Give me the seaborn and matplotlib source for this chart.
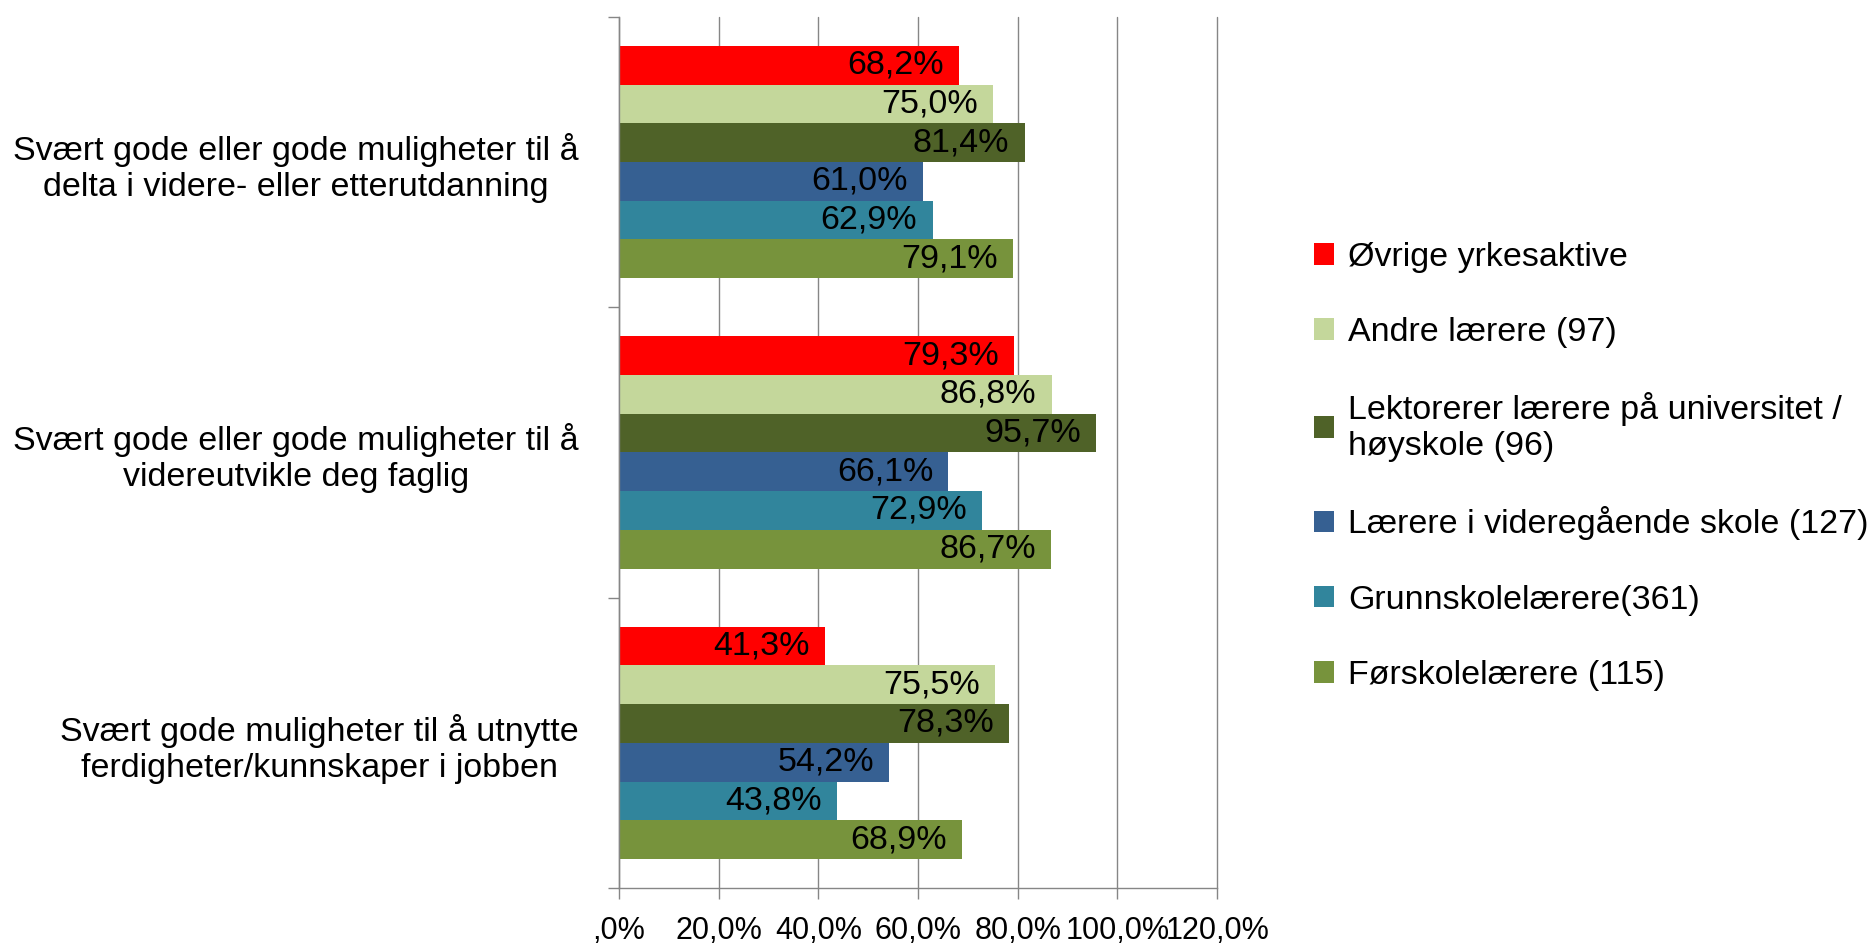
import pandas as pd
import matplotlib
matplotlib.use("Agg")
import matplotlib.pyplot as plt
import seaborn as sns

# Data
categories = [
    "Svært gode eller gode muligheter til å\ndelta i videre- eller etterutdanning",
    "Svært gode eller gode muligheter til å\nvidereutvikle deg faglig",
    "Svært gode muligheter til å utnytte\nferdigheter/kunnskaper i jobben",
]
groups = [
    "Øvrige yrkesaktive",
    "Andre lærere (97)",
    "Lektorerer lærere på universitet /\nhøyskole (96)",
    "Lærere i videregående skole (127)",
    "Grunnskolelærere(361)",
    "Førskolelærere (115)",
]
ovrige = [68.2, 79.3, 41.3]
andre = [75.0, 86.8, 75.5]
lektorer = [81.4, 95.7, 78.3]
vgs = [61.0, 66.1, 54.2]
grunnskole = [62.9, 72.9, 43.8]
forskole = [79.1, 86.7, 68.9]
colors = ["#FF0000", "#C4D79B", "#4F6228", "#366092", "#31859C", "#77933C"]
xticks = [0, 20, 40, 60, 80, 100, 120]
xtick_labels = [",0%", "20,0%", "40,0%", "60,0%", "80,0%", "100,0%", "120,0%"]

series = [ovrige, andre, lektorer, vgs, grunnskole, forskole]
rows = []
for g, vals in zip(groups, series):
    for c, v in zip(categories, vals):
        rows.append({"kategori": c, "gruppe": g, "andel": v})
df = pd.DataFrame(rows)

sns.set_style("white")
plt.rcParams["font.family"] = ["Liberation Sans", "DejaVu Sans"]
plt.rcParams["text.color"] = "black"
plt.rcParams["xtick.labelcolor"] = "black"
plt.rcParams["ytick.labelcolor"] = "black"
FS = 24.5

fig = plt.figure(figsize=(18.73, 9.46), dpi=100)
ax = fig.add_axes([0.3305, 0.0613, 0.3193, 0.921])

sns.barplot(data=df, y="kategori", x="andel", hue="gruppe", hue_order=groups,
            order=categories, palette=colors, orient="h", width=0.8,
            saturation=1, edgecolor="none", ax=ax)

handles, labels = ax.get_legend_handles_labels()
if ax.legend_ is not None:
    ax.legend_.remove()

# value labels, inside end
for cont, vals in zip(ax.containers, series):
    txts = ax.bar_label(cont, labels=[f"{v:.1f}%".replace(".", ",") for v in vals],
                        padding=-11, fontsize=FS, color="black")
    for t in txts:
        t.set_ha("right")

gray = "#868686"
ax.set_xlim(0, 120)
ax.set_ylim(2.5, -0.5)
ax.set_xticks(xticks)
ax.set_xticklabels(xtick_labels, fontsize=22, color="black")
ax.xaxis.grid(True, color=gray, lw=1)
for gl in ax.get_xgridlines():
    gl.set_clip_on(False)
ax.set_axisbelow(True)
ax.tick_params(axis="x", length=8, color=gray, width=1, pad=12, bottom=True)

ax.set_yticks(range(len(categories)))
ax.set_yticklabels(categories, fontsize=FS, multialignment="center", color="black")
ax.set_yticks([-0.5, 0.5, 1.5, 2.5], minor=True)
ax.tick_params(axis="y", which="major", length=0, pad=29)
ax.tick_params(axis="y", which="minor", length=8, color=gray, width=1, left=True)
ax.set_xlabel("")
ax.set_ylabel("")

for s in ["top", "right"]:
    ax.spines[s].set_visible(False)
for s in ["left", "bottom"]:
    ax.spines[s].set_color(gray)
    ax.spines[s].set_linewidth(1)

fig.legend(handles, labels, loc="center left", bbox_to_anchor=(0.7015, 0.507),
           frameon=False, fontsize=FS, borderaxespad=0, borderpad=0,
           handlelength=0.6, handleheight=0.6, handletextpad=0.4,
           labelspacing=1.3, labelcolor="black")

fig.savefig("out.png", dpi=100)
